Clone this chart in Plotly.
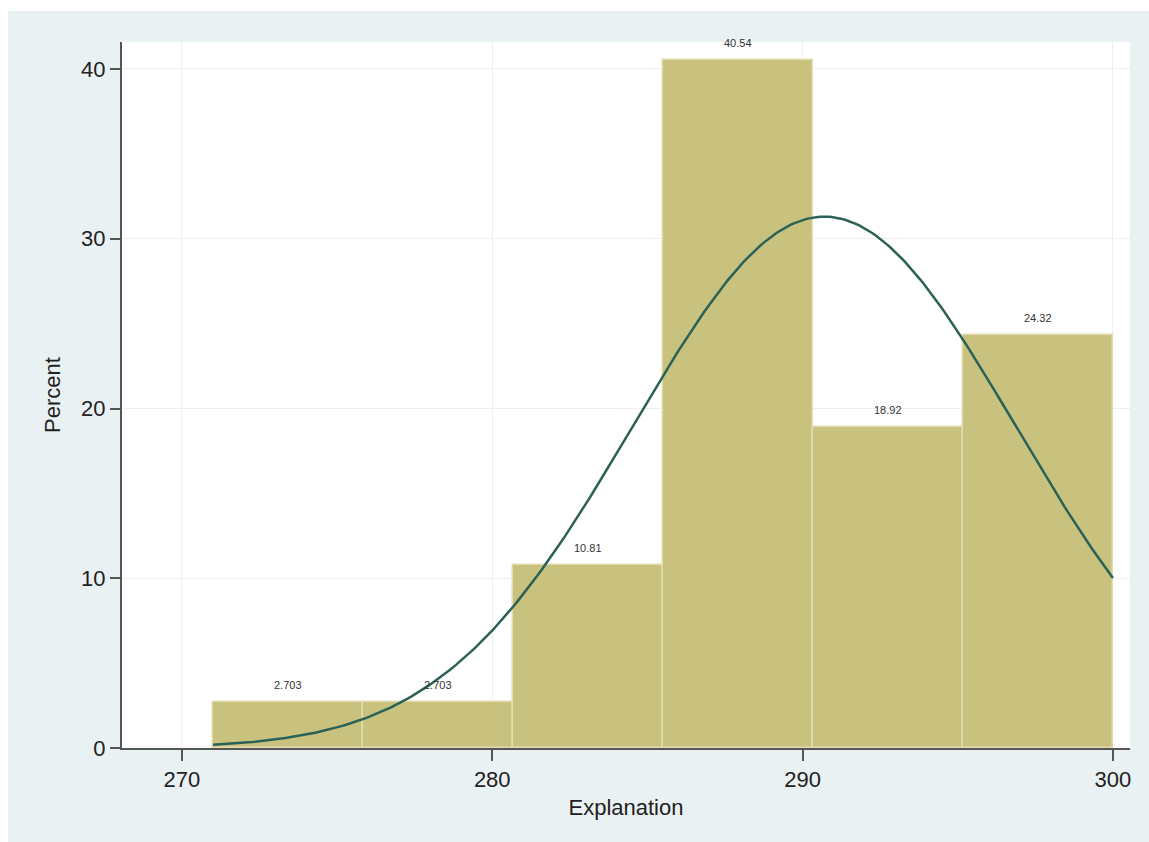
import numpy as np
import plotly.graph_objects as go

# ---- data ----
bin_start = 271.0
bin_end = 300.0
n_bins = 6
percent = [2.703, 2.703, 10.81, 40.54, 18.92, 24.32]
bar_labels = ["2.703", "2.703", "10.81", "40.54", "18.92", "24.32"]
# fitted normal density parameters (estimated)
norm_mean = 290.7
norm_sd = 6.16
x_ticks = [270, 280, 290, 300]
y_ticks = [0, 10, 20, 30, 40]

bw = (bin_end - bin_start) / n_bins
centers = [bin_start + bw * (i + 0.5) for i in range(n_bins)]

xs = np.linspace(bin_start, bin_end, 300)
dens = 100 * bw * np.exp(-0.5 * ((xs - norm_mean) / norm_sd) ** 2) / (norm_sd * np.sqrt(2 * np.pi))

BAR = "#C9C27E"
EDGE = "#E2DCB0"
CURVE = "#2B6257"
BG = "#EAF1F3"
FONT = "Liberation Sans, Arial, Helvetica, sans-serif"

fig = go.Figure()
fig.add_trace(go.Bar(
    x=centers, y=percent, width=bw,
    marker=dict(color=BAR, line=dict(color=EDGE, width=1.5)),
    hoverinfo="skip", showlegend=False,
))
fig.add_trace(go.Scatter(
    x=xs, y=dens, mode="lines",
    line=dict(color=CURVE, width=2.5),
    hoverinfo="skip", showlegend=False,
))

for cx, v, t in zip(centers, percent, bar_labels):
    fig.add_annotation(x=cx, y=v, text=t, showarrow=False, yshift=17,
                       font=dict(size=11, color="#333333", family=FONT))

W, H = 1149, 842
L, R, T, B = 122, 1130, 42, 748
pw, ph = R - L, B - T
def px(x): return (x - L) / pw
def py(y): return (B - y) / ph

# white strips outside the light panel (top and left)
fig.add_shape(type="rect", xref="paper", yref="paper",
              x0=px(0), x1=px(W), y0=py(11), y1=py(0),
              fillcolor="white", line=dict(width=0), layer="below")
fig.add_shape(type="rect", xref="paper", yref="paper",
              x0=px(0), x1=px(8), y0=py(H), y1=py(0),
              fillcolor="white", line=dict(width=0), layer="below")

fig.update_layout(
    width=W, height=H,
    margin=dict(l=L, r=W - R, t=T, b=H - B, pad=0),
    paper_bgcolor=BG, plot_bgcolor="white",
    font=dict(family=FONT, size=22, color="#222222"),
    bargap=0,
    xaxis=dict(
        range=[268.07, 300.55], tickvals=x_ticks,
        showgrid=True, gridcolor="#EEEEEE", gridwidth=1,
        showline=True, linecolor="#555555", linewidth=2,
        ticks="outside", ticklen=11, tickwidth=1.5, tickcolor="#555555",
        tickfont=dict(size=22), zeroline=False,
        title=dict(text="Explanation", font=dict(size=22), standoff=8),
    ),
    yaxis=dict(
        range=[0, 41.59], tickvals=y_ticks,
        showgrid=True, gridcolor="#EEEEEE", gridwidth=1,
        showline=True, linecolor="#555555", linewidth=2,
        ticks="outside", ticklen=10, tickwidth=1.5, tickcolor="#555555",
        tickfont=dict(size=22), zeroline=False,
        title=dict(text="Percent", font=dict(size=22), standoff=14),
    ),
)

fig.write_html("out.html")
